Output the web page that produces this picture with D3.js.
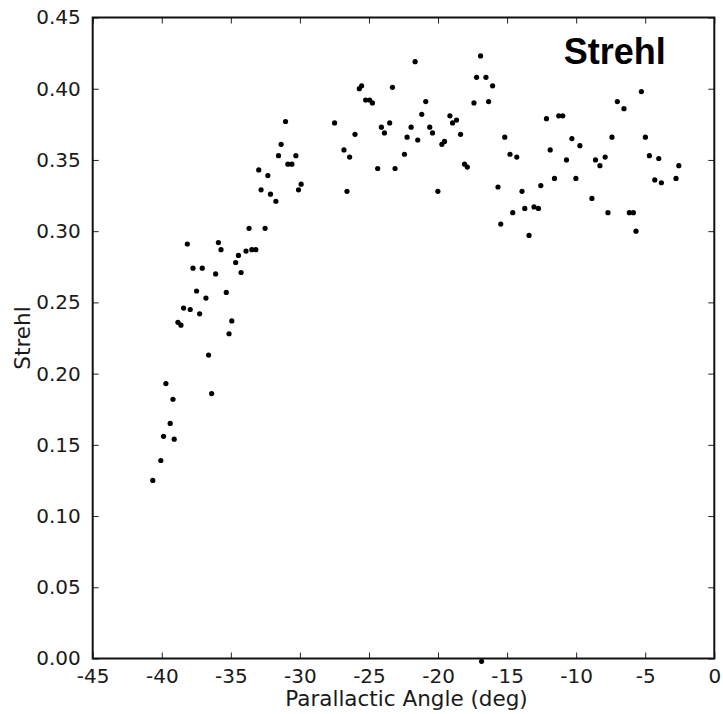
<!DOCTYPE html>
<html>
<head>
<meta charset="utf-8">
<script src="https://cdn.jsdelivr.net/npm/d3@7"></script>
<style>
    body { margin: 0; background: white; }
    .chart text { font-family: "DejaVu Sans", sans-serif; fill: #1a1a1a; }
</style>
</head>
<body>
<div class="chart"></div>
<script>
// parallactic angle (deg) for each frame
var angles = [-40.65, -40.07, -39.87, -39.70, -39.39, -39.19, -39.10, -38.83, -38.61, -38.42,
    -38.15, -37.94, -37.74, -37.48, -37.26, -37.07, -36.80, -36.61, -36.39, -36.10,
    -35.90, -35.71, -35.33, -35.13, -34.93, -34.65, -34.45, -34.26, -33.90, -33.68,
    -33.48, -33.19, -32.98, -32.81, -32.52, -32.32, -32.13, -31.74, -31.55, -31.36,
    -31.04, -30.87, -30.58, -30.29, -30.10, -29.91, -27.49, -26.81, -26.59, -26.40,
    -26.01, -25.70, -25.53, -25.24, -24.95, -24.75, -24.37, -24.10, -23.88, -23.50,
    -23.30, -23.11, -22.43, -22.24, -21.95, -21.66, -21.47, -21.18, -20.89, -20.60,
    -20.40, -20.01, -19.72, -19.53, -19.14, -18.95, -18.66, -18.37, -18.08, -17.88,
    -17.40, -17.21, -16.92, -16.85, -16.53, -16.34, -16.05, -15.66, -15.46, -15.17,
    -14.79, -14.59, -14.30, -13.92, -13.72, -13.41, -13.05, -12.73, -12.56, -12.15,
    -11.88, -11.57, -11.26, -10.97, -10.70, -10.31, -10.02, -9.73, -8.86, -8.60,
    -8.28, -7.90, -7.70, -7.41, -7.02, -6.54, -6.15, -5.86, -5.67, -5.28,
    -4.99, -4.70, -4.31, -4.02, -3.83, -2.77, -2.57];

// strehl ratio for the same frames
var strehl = [0.125, 0.139, 0.156, 0.193, 0.165, 0.182, 0.154, 0.236, 0.234, 0.246,
    0.291, 0.245, 0.274, 0.258, 0.242, 0.274, 0.253, 0.213, 0.186, 0.270,
    0.292, 0.287, 0.257, 0.228, 0.237, 0.278, 0.283, 0.271, 0.286, 0.302,
    0.287, 0.287, 0.343, 0.329, 0.302, 0.339, 0.326, 0.321, 0.353, 0.361,
    0.377, 0.347, 0.347, 0.353, 0.329, 0.333, 0.376, 0.357, 0.328, 0.352,
    0.368, 0.400, 0.402, 0.392, 0.392, 0.390, 0.344, 0.373, 0.369, 0.376,
    0.401, 0.344, 0.354, 0.366, 0.373, 0.419, 0.364, 0.382, 0.391, 0.373,
    0.369, 0.328, 0.361, 0.363, 0.381, 0.376, 0.378, 0.368, 0.347, 0.345,
    0.390, 0.408, 0.423, -0.002, 0.408, 0.391, 0.402, 0.331, 0.305, 0.366,
    0.354, 0.313, 0.352, 0.328, 0.316, 0.297, 0.317, 0.316, 0.332, 0.379,
    0.357, 0.337, 0.381, 0.381, 0.350, 0.365, 0.337, 0.360, 0.323, 0.350,
    0.346, 0.352, 0.313, 0.366, 0.391, 0.386, 0.313, 0.313, 0.300, 0.398,
    0.366, 0.353, 0.336, 0.351, 0.334, 0.337, 0.346];

var xTicks = [-45, -40, -35, -30, -25, -20, -15, -10, -5, 0];
var yTicks = [0.00, 0.05, 0.10, 0.15, 0.20, 0.25, 0.30, 0.35, 0.40, 0.45];
var title = "Strehl";

drawChart();

function drawChart() {
    let margins = { top: 17.5, left: 92.7, right: 8.7, bottom: 55.5 };
    var totalWidth = 723, totalHeight = 714;
    var width = totalWidth - margins.left - margins.right;
    var height = totalHeight - margins.top - margins.bottom;

    var svg = d3.select('.chart')
        .append('svg')
        .attr('width', totalWidth)
        .attr('height', totalHeight)
        .append('g')
        .attr('transform', 'translate(' + margins.left + ',' + margins.top + ')');

    var xScale = d3.scaleLinear().domain([-45, 0]).range([0, width]);
    var yScale = d3.scaleLinear().domain([0, 0.45]).range([height, 0]);

    var points = angles.map(function (a, i) {
        return { x: a, y: strehl[i] };
    });

    // inward ticks on all four sides, labels only bottom/left
    var tickLen = 6;
    var bottomAxis = d3.axisBottom(xScale).tickValues(xTicks)
        .tickSizeInner(-tickLen).tickSizeOuter(0).tickPadding(10)
        .tickFormat(function (d) { return String(d); });
    var topAxis = d3.axisTop(xScale).tickValues(xTicks)
        .tickSizeInner(-tickLen).tickSizeOuter(0).tickFormat('');
    var leftAxis = d3.axisLeft(yScale).tickValues(yTicks)
        .tickSizeInner(-tickLen).tickSizeOuter(0).tickPadding(12)
        .tickFormat(d3.format('.2f'));
    var rightAxis = d3.axisRight(yScale).tickValues(yTicks)
        .tickSizeInner(-tickLen).tickSizeOuter(0).tickFormat('');

    svg.selectAll('circle')
        .data(points)
        .enter()
        .append('circle')
        .attr('cx', function (d) { return xScale(d.x); })
        .attr('cy', function (d) { return yScale(d.y); })
        .attr('r', 2.6)
        .style('fill', 'black');

    var gx = svg.append('g')
        .attr('transform', 'translate(0,' + height + ')')
        .call(bottomAxis);
    var gt = svg.append('g').call(topAxis);
    var gy = svg.append('g').call(leftAxis);
    var gr = svg.append('g')
        .attr('transform', 'translate(' + width + ',0)')
        .call(rightAxis);

    [gx, gt, gy, gr].forEach(function (g) {
        g.select('.domain').remove();
        g.selectAll('.tick line').attr('stroke', '#222').attr('stroke-width', 1);
        g.selectAll('.tick text')
            .style('font-size', '20px')
            .attr('fill', '#1a1a1a');
    });

    // frame
    svg.append('rect')
        .attr('x', 0)
        .attr('y', 0)
        .attr('width', width)
        .attr('height', height)
        .attr('fill', 'none')
        .attr('stroke', '#111')
        .attr('stroke-width', 2);

    svg.append('text')
        .attr('x', width / 2 + 3)
        .attr('y', height + 47)
        .attr('text-anchor', 'middle')
        .style('font-size', '21.5px')
        .text('Parallactic Angle (deg)');

    svg.append('text')
        .attr('transform', 'translate(' + (-63) + ',' + (height / 2) + ') rotate(-90)')
        .attr('text-anchor', 'middle')
        .style('font-size', '21.5px')
        .text('Strehl');

    svg.append('text')
        .attr('x', 471)
        .attr('y', 46.5)
        .style('font-family', '"Liberation Sans", Arial, sans-serif')
        .style('font-weight', 'bold')
        .style('font-size', '36px')
        .style('fill', 'black')
        .text(title);
}
</script>
</body>
</html>
